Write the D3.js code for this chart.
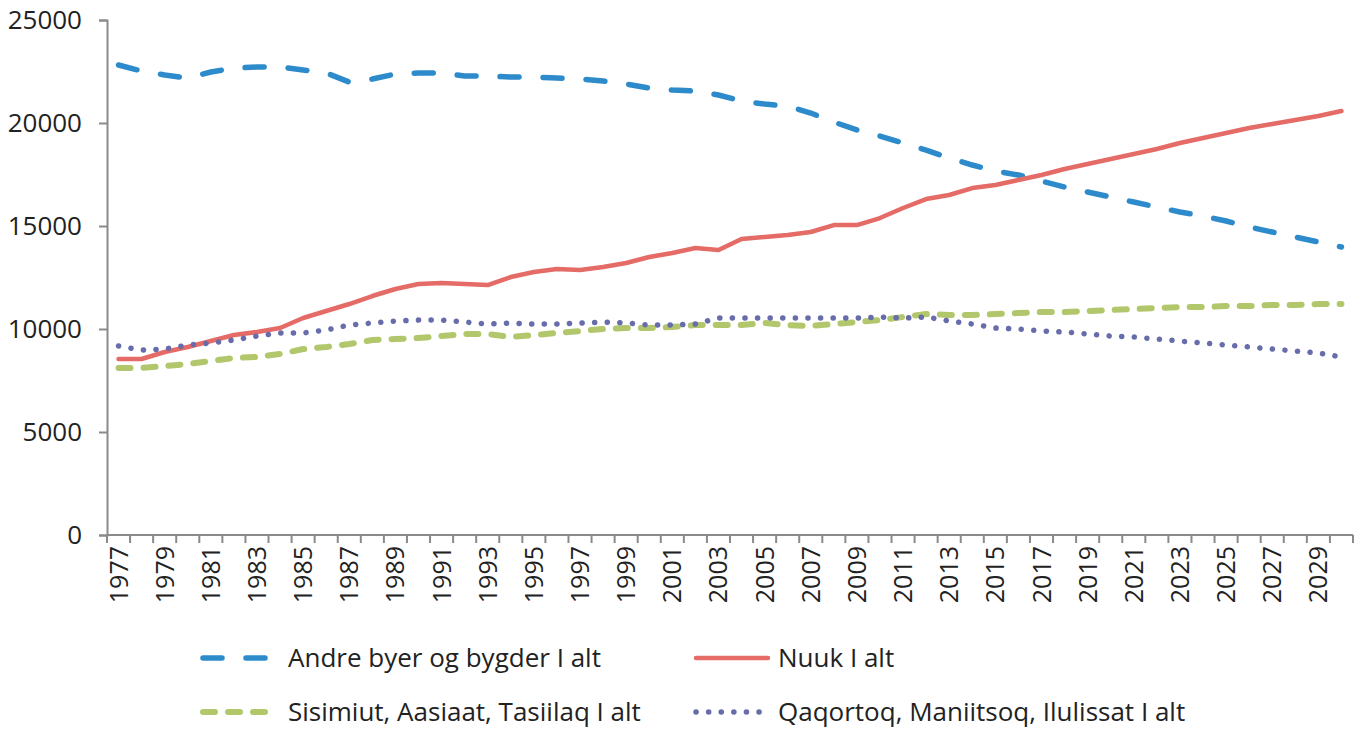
<!DOCTYPE html>
<html>
<head>
<meta charset="utf-8">
<script src="https://cdnjs.cloudflare.com/ajax/libs/d3/7.8.5/d3.min.js"></script>
<style>
  body { margin: 0; background: #fff; }
  svg { display: block; font-family: "Open Sans", sans-serif; }
</style>
</head>
<body>
<div id="chart"></div>
<script>
// years 1977 - 2030
var years = d3.range(1977, 2031);
var yTicks = [0, 5000, 10000, 15000, 20000, 25000];

var andre = [22814, 22523, 22328, 22183, 22474, 22668, 22717, 22717, 22571, 22426,
  21988, 22134, 22377, 22426, 22426, 22280, 22280, 22231, 22231, 22183,
  22134, 22037, 21891, 21697, 21600, 21552, 21358, 21066, 20921, 20824,
  20484, 20047, 19660, 19368, 19029, 18688, 18300, 17960, 17669, 17475,
  17184, 16893, 16650, 16407, 16164, 15921, 15679, 15483, 15242, 14950,
  14708, 14465, 14222, 13979];

var nuuk = [8544, 8543, 8883, 9126, 9417, 9708, 9854, 10048, 10533, 10873,
  11213, 11601, 11941, 12184, 12232, 12184, 12135, 12523, 12766, 12912,
  12863, 13009, 13203, 13494, 13688, 13931, 13834, 14368, 14465, 14562,
  14708, 15047, 15047, 15387, 15873, 16309, 16504, 16843, 16989, 17232,
  17474, 17766, 18008, 18251, 18494, 18736, 19028, 19270, 19513, 19756,
  19950, 20144, 20338, 20581];

var sisimiut = [8106, 8106, 8203, 8300, 8446, 8592, 8640, 8786, 9028, 9126,
  9271, 9465, 9514, 9562, 9659, 9757, 9757, 9611, 9708, 9805,
  9902, 9999, 10048, 10048, 10096, 10193, 10193, 10193, 10290, 10193,
  10145, 10242, 10339, 10436, 10582, 10727, 10679, 10679, 10727, 10776,
  10824, 10824, 10873, 10922, 10970, 11019, 11067, 11067, 11116, 11116,
  11164, 11164, 11213, 11213];

var qaqortoq = [9174, 8980, 9028, 9223, 9320, 9465, 9659, 9805, 9805, 9951,
  10193, 10290, 10388, 10436, 10436, 10339, 10242, 10290, 10242, 10242,
  10290, 10339, 10290, 10193, 10193, 10242, 10533, 10533, 10533, 10533,
  10533, 10533, 10533, 10582, 10533, 10582, 10388, 10242, 10048, 9999,
  9902, 9854, 9757, 9659, 9611, 9514, 9417, 9320, 9223, 9126,
  9028, 8931, 8834, 8640];

var seriesNames = ["Andre byer og bygder I alt", "Nuuk I alt",
  "Sisimiut, Aasiaat, Tasiilaq I alt", "Qaqortoq, Maniitsoq, Ilulissat I alt"];

var styles = [
  { color: "#2e8bcb", width: 5.5, dash: "19,24", cap: "round" },
  { color: "#e56b67", width: 4.5, dash: null, cap: "round" },
  { color: "#b2c76c", width: 6, dash: "12,13", cap: "round" },
  { color: "#676caa", width: 5.5, dash: "0.1,12.5", cap: "round" }
];

var series = [andre, nuuk, sisimiut, qaqortoq];

var W = 1366, H = 729;
var svg = d3.select("#chart").append("svg")
  .attr("width", W).attr("height", H);

var x = d3.scaleBand().domain(years).range([107, 1353]).padding(0);
var y = d3.scaleLinear().domain([0, 25000]).range([535, 20]);

var axisColor = "#8a8a8a";

// y axis
var yAxis = svg.append("g")
  .attr("transform", "translate(107,0)")
  .call(d3.axisLeft(y).tickValues(yTicks).tickSize(8).tickPadding(17).tickFormat(d3.format("d")));
yAxis.select(".domain").attr("stroke", axisColor).attr("stroke-width", 2);
yAxis.selectAll(".tick line").attr("stroke", axisColor).attr("stroke-width", 2);
yAxis.selectAll(".tick text")
  .attr("font-size", 26).attr("fill", "#222")
  .attr("font-family", "Open Sans, sans-serif");

// x axis, Excel style: ticks between categories, every other label
var xg = svg.append("g");
xg.append("line")
  .attr("x1", 107).attr("x2", 1353)
  .attr("y1", 535).attr("y2", 535)
  .attr("stroke", axisColor).attr("stroke-width", 2);
var tickPos = years.map(function(d) { return x(d); }).concat([x.range()[1]]);
xg.selectAll("line.tk").data(tickPos).enter().append("line")
  .attr("class", "tk")
  .attr("x1", function(d) { return d; }).attr("x2", function(d) { return d; })
  .attr("y1", 535).attr("y2", 543)
  .attr("stroke", axisColor).attr("stroke-width", 2);
xg.selectAll("text").data(years.filter(function(d, i) { return i % 2 === 0; }))
  .enter().append("text")
  .attr("transform", function(d) {
    return "translate(" + (x(d) + x.bandwidth() / 2 + 9) + ",546) rotate(-90)";
  })
  .attr("text-anchor", "end")
  .attr("font-size", 25)
  .attr("fill", "#222")
  .text(function(d) { return d; });

// lines
var line = d3.line()
  .x(function(d, i) { return x(years[i]) + x.bandwidth() / 2; })
  .y(function(d) { return y(d); });

series.forEach(function(s, k) {
  var st = styles[k];
  svg.append("path")
    .datum(s)
    .attr("fill", "none")
    .attr("stroke", st.color)
    .attr("stroke-width", st.width)
    .attr("stroke-linecap", st.cap)
    .attr("stroke-linejoin", "round")
    .attr("stroke-dasharray", st.dash)
    .attr("d", line);
});

// legend
var legendPos = [
  { x: 203, y: 658, tx: 288 },
  { x: 696, y: 658, tx: 778 },
  { x: 203, y: 712, tx: 288 },
  { x: 696, y: 712, tx: 778 }
];
var lg = svg.append("g").selectAll("g").data(seriesNames).enter().append("g");
lg.append("line")
  .attr("x1", function(d, i) { return legendPos[i].x; })
  .attr("x2", function(d, i) { return legendPos[i].x + 72; })
  .attr("y1", function(d, i) { return legendPos[i].y; })
  .attr("y2", function(d, i) { return legendPos[i].y; })
  .attr("stroke", function(d, i) { return styles[i].color; })
  .attr("stroke-width", function(d, i) { return styles[i].width; })
  .attr("stroke-linecap", function(d, i) { return styles[i].cap; })
  .attr("stroke-dasharray", function(d, i) { return styles[i].dash; });
lg.append("text")
  .attr("x", function(d, i) { return legendPos[i].tx; })
  .attr("y", function(d, i) { return legendPos[i].y + 9; })
  .attr("font-size", 26)
  .attr("fill", "#222")
  .text(function(d) { return d; });
</script>
</body>
</html>
